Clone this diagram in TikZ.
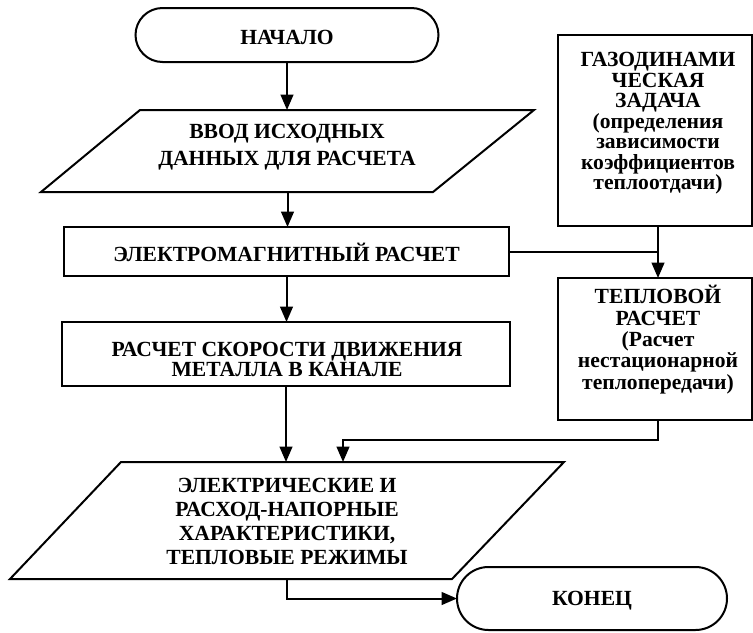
\documentclass[tikz,border=0pt]{standalone}
\usepackage{fontspec}
\setmainfont{Liberation Serif}
\usetikzlibrary{shapes.misc,arrows.meta,calc}
\tikzset{
  ln/.style={line width=1.5pt},
  arr/.style={ln,-{Triangle[length=11.5pt,width=9.5pt]}},
  box/.style={draw,ln,rectangle,inner sep=0pt,outer sep=0pt},
  term/.style={draw,ln,rounded rectangle,inner sep=0pt,outer sep=0pt},
  ghost/.style={rectangle,inner sep=0pt,outer sep=0pt},
  txt/.style={align=center,inner sep=0pt,font=\bfseries\fontsize{16.2}{#1}\selectfont},
  txt/.default=15.4
}
\begin{document}
\begin{tikzpicture}[x=0.75pt,y=-0.75pt]
\useasboundingbox (0,0) rectangle (753,632);
% shapes
\node[term,minimum width=227.25pt,minimum height=40.5pt] (start) at (287,35) {};
\node[ghost,minimum width=294pt,minimum height=61.5pt] (in) at (287.5,151) {};
\draw[ln,line join=miter] (140,110) -- (534,110) -- (433,192) -- (41,192) -- cycle;
\node[box,minimum width=333.75pt,minimum height=36.75pt] (em) at (286.5,251.5) {};
\node[box,minimum width=336pt,minimum height=48pt] (speed) at (286,354) {};
\node[box,minimum width=145.5pt,minimum height=143.25pt] (gas) at (655,130.5) {};
\node[box,minimum width=145.5pt,minimum height=106.5pt] (heat) at (655,349) {};
\node[ghost,minimum width=330pt,minimum height=87.75pt] (out) at (287,520.5) {};
\draw[ln,line join=miter] (121,462) -- (564,462) -- (452,579) -- (10,579) -- cycle;
\node[term,minimum width=202.5pt,minimum height=47.25pt] (end) at (592,598.5) {};
% texts
\node[txt] (tstart) at (287,37) {НАЧАЛО};
\node[txt=20.25] (tin) at (287,147.5) {ВВОД ИСХОДНЫХ\\ДАННЫХ ДЛЯ РАСЧЕТА};
\node[txt] (tem) at (286.5,252) {ЭЛЕКТРОМАГНИТНЫЙ РАСЧЕТ};
\node[txt=15] (tspeed) at (287,359) {РАСЧЕТ СКОРОСТИ ДВИЖЕНИЯ\\МЕТАЛЛА В КАНАЛЕ};
\node[txt=15.4] (tgas) at (658,123.5) {ГАЗОДИНАМИ\\ЧЕСКАЯ\\ЗАДАЧА\\(определения\\зависимости\\коэффициентов\\теплоотдачи)};
\node[txt=16] (theat) at (658,339.5) {ТЕПЛОВОЙ\\РАСЧЕТ\\(Расчет\\нестационарной\\теплопередачи)};
\node[txt=18] (tout) at (287,521.5) {ЭЛЕКТРИЧЕСКИЕ И\\РАСХОД-НАПОРНЫЕ\\ХАРАКТЕРИСТИКИ,\\ТЕПЛОВЫЕ РЕЖИМЫ};
\node[txt] (tend) at (592,601) {КОНЕЦ};
% helper points
\coordinate (gx) at ([xshift=2.25pt]gas.south);
\coordinate (hx) at ([xshift=2.25pt]heat.north);
\coordinate (hb) at ([xshift=2.25pt]heat.south);
\coordinate (j2) at (343,440);
\coordinate (oin) at ([xshift=42pt]out.north);
% connectors
\draw[arr] (start.south) -- (start.south |- in.north);
\draw[arr] (in.south) -- (in.south |- em.north);
\draw[arr] (em.south) -- (em.south |- speed.north);
\draw[arr] (speed.south) -- (speed.south |- out.north);
\draw[arr] (gx) -- (hx);
\draw[ln] (em.east) -- (em.east -| gx);
\draw[arr] (hb) |- (j2) -- (oin);
\draw[arr] (out.south) |- (end.west);
\end{tikzpicture}
\end{document}
